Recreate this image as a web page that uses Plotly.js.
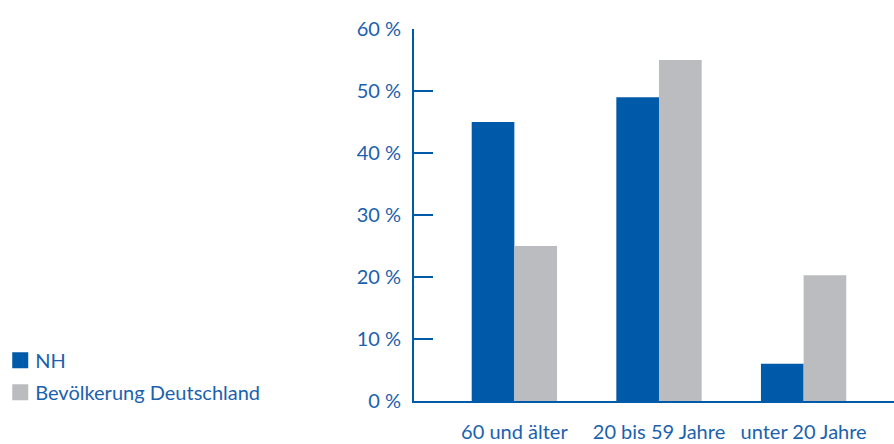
<!DOCTYPE html>
<html>
<head>
<meta charset="utf-8">
<script src="https://cdn.plot.ly/plotly-3.0.1.min.js"></script>
<style>
  html, body { margin: 0; padding: 0; background: #ffffff; }
  #chart { width: 894px; height: 444px; }
</style>
</head>
<body>
<div id="chart"></div>
<script>
// Altersstruktur: NH im Vergleich zur Bevölkerung Deutschlands (Anteile in %)
const categories = ['60 und älter', '20 bis 59 Jahre', 'unter 20 Jahre'];
const nhValues = [45, 49, 6];
const deValues = [25, 55, 20.3];
const yTickValues = [0, 10, 20, 30, 40, 50, 60];
const yTickLabels = ['0 %', '10 %', '20 %', '30 %', '40 %', '50 %', '60 %'];

const blue = '#005aaa';
const grey = '#bbbcbf';
const textBlue = '#1b62ad';
const fontFamily = 'Lato, Open Sans, sans-serif';
const fontSize = 20;

const traces = [
  { type: 'bar', name: 'NH', legendgroup: 'nh', x: categories, y: nhValues,
    marker: { color: blue, line: { width: 0 } }, hoverinfo: 'skip' },
  { type: 'bar', name: 'Bevölkerung Deutschland', legendgroup: 'de', x: categories, y: deValues,
    marker: { color: grey, line: { width: 0 } }, hoverinfo: 'skip' }
];

const layout = {
  width: 894, height: 444,
  margin: { l: 411, r: 0, t: 29, b: 43, pad: 0 },
  paper_bgcolor: '#ffffff', plot_bgcolor: '#ffffff',
  font: { family: fontFamily, size: fontSize, color: textBlue },
  barmode: 'group',
  bargap: 0.41, bargroupgap: 0,
  showlegend: true,
  legend: {
    x: -0.862, xanchor: 'left', y: 0.162, yanchor: 'top',
    font: { size: fontSize, color: textBlue },
    bgcolor: 'rgba(0,0,0,0)', itemwidth: 30,
    traceorder: 'grouped', tracegroupgap: 3
  },
  xaxis: {
    type: 'category', range: [-0.694, 2.625],
    showgrid: false, zeroline: false,
    showline: true, linecolor: blue, linewidth: 2,
    ticks: '', ticklabelstandoff: 12,
    tickfont: { size: fontSize, color: textBlue }, fixedrange: true
  },
  yaxis: {
    range: [0, 60], tickvals: yTickValues, ticktext: yTickLabels,
    showgrid: false, zeroline: false,
    showline: true, linecolor: blue, linewidth: 2,
    ticks: 'inside', ticklen: 19, tickwidth: 2, tickcolor: blue,
    ticklabelstandoff: 7,
    tickfont: { size: fontSize, color: textBlue }, fixedrange: true
  }
};

Plotly.newPlot('chart', traces, layout, { displayModeBar: false, staticPlot: true })
  .then(function (gd) {
    // larger square legend swatches, label closer to the swatch
    gd.querySelectorAll('.legend .legendpoints path').forEach(function (p) {
      p.setAttribute('d', 'M8,8H-8V-8H8Z');
    });
    gd.querySelectorAll('.legend text.legendtext').forEach(function (t) {
      const x = parseFloat(t.getAttribute('x')) || 40;
      t.setAttribute('x', x - 5);
    });
  });
</script>
</body>
</html>
